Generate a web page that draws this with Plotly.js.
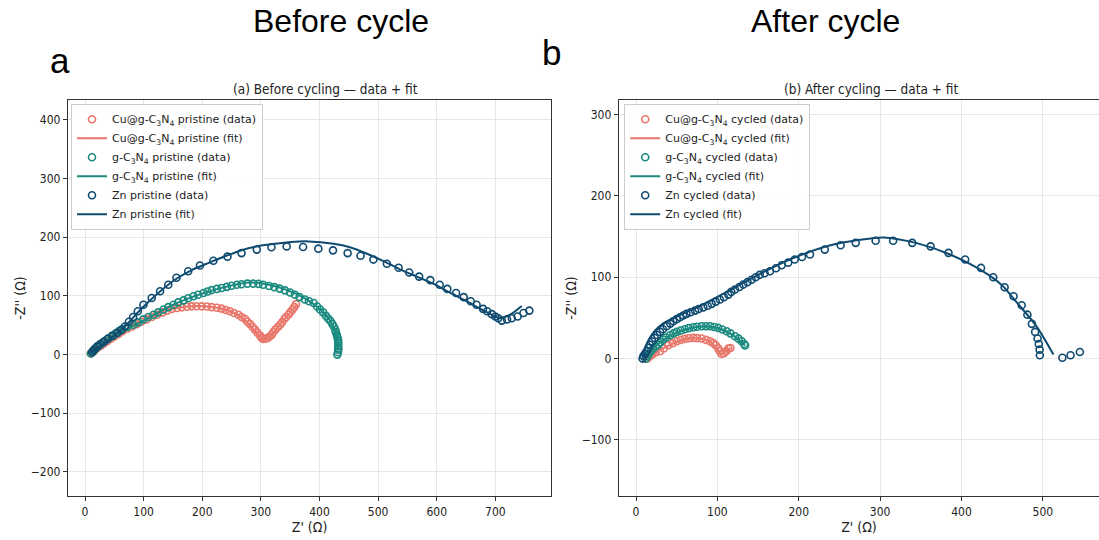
<!DOCTYPE html>
<html>
<head>
<meta charset="utf-8">
<script src="https://cdn.plot.ly/plotly-3.0.1.min.js"></script>
<style>html,body{margin:0;padding:0;background:#fff;} #chart{width:1099px;height:540px;}</style>
</head>
<body>
<div id="chart"></div>
<script>
// ---------- (a) Before cycling ----------
const cuPristineX = [10,12,15,18,22,27,32,38,44,50,57,64,72,80,88,96,105,114,123,132,140,148,157,165,174,182,190,199,208,216,225,233,240,247,254,261.6,267,273,277,281.6,286,290,294,298.6,301,304,308,311.7,315,318.5,321,324.7,329,332.8,336,340,343,347,350,353.8,357,360];
const cuPristineY = [2,4,6,9,12,15,19,23,27,31,35,40,44,48,52,56,60,64,68,72,75,78,79.5,80.6,81.5,82.3,82.5,82.3,82,81,80,78.4,76,73.8,71,68,64,60.6,56,52,47,42.6,37.5,32.4,29,26.6,27,28.4,31,34,38,42.6,47,51,55,60.6,64,68,72,76.7,81,86];
const cuPristineFitX = [10,40,80,120,150,190,230,260,280,295,303,315,330,345,362];
const cuPristineFitY = [2,25,48,67,78,83,79,68,52,35,27,30,48,66,86];

const gcnPristineX = [10,13,16,20,25,30,35,40,46,52,58,63,72,82.5,91,99.5,108,117,125,134,142,151,159,168,176,185,193,202,209,216,225,233,242,250,259,267,277,287,296,304,314,323,332,341,350,358,366,375,382,390,396,401,406,411,415,419,422,425,427,428,429.5,430.5,431.5,432,432,432,432,432,431.5,430.5];
const gcnPristineY = [2,5,8,12,16,20,24,28,32,36,40,43,47,51,55,60,64,68,72,77,81,85,89,92.5,96,99.4,102,105,107.5,110,112,113.5,115.5,117.5,119,120,121,121,120.5,119,117,115,112.5,109.5,106,102,98,94,91,88,82,77,72,66,61,57,52,47,42,38,34,30,26,22.7,19,15,11,8.5,4,0];
const gcnPristineFitX = [10,30,60,100,150,200,250,280,310,345,375,400,418,427,431,432];
const gcnPristineFitY = [2,18,38,58,85,104,118,123,120,110,96,78,58,40,20,8];

const znPristineX = [12,14,17,21,26,32,39,47,55,62,68,75,82,90,99.6,113.8,128,142,156,176,196,219,243,267,293,318,344,372,398,423,448,470,492,515,535,553,570,589,605,618,633,646,658,668,679,686,694,700,705,711,720,728,738,748,758];
const znPristineY = [4,7,10,14,18,22,27,32,37,42,48,56,64,74,85,96.5,108,119,131,142,152,160,167,173,179,183,184.5,183.5,180.6,177.7,173,168.6,162,155,148,140,133,127,119,112,105,98,91,85,78,74,69,65,62,58,60,62,65,71,75];
const znPristineFitX = [10,25,40,55,68,82,97,125,154,182,210,240,267,296,324,352,381,424,452,481,510,538,566,594,622,651,680,708,725,745];
const znPristineFitY = [4,14,25,37,48,63,79,105,128,144,156,168,178,185,189,192,193,189,183,172,159,145,133,121,106,91,75,62,68,83];

// ---------- (b) After cycling ----------
const cuCycledX = [14,17,20,24,29.5,34,39.7,45,50,55,60,65,70.4,75,80.7,86,91,95,98,101,103,105,108,111,113.4,116];
const cuCycledY = [0,3,5,7.5,9,12.5,16.4,19,21.3,23,24.2,25,25.4,25.2,24.6,23,21.3,19,16.4,12.5,9,6,6.5,9,12.3,13];
const cuCycledFitX = [14,25,40,60,75,90,100,104,110,116];
const cuCycledFitY = [0,8,16,24,25,21.5,12,5,9,13];

const gcnCycledX = [12,14,16,18,21,24,27.4,30,33.5,37,41.8,46,50,55,60,65,70.4,75,80.7,86,91,96,101,106,111.4,116,121.6,126,129.8,133,134];
const gcnCycledY = [0,3,6,9,12,15,17,20,23.4,26,28.7,31,32.8,34.5,36,37.5,38.5,39.2,39.7,39.8,39.7,38.8,37.7,35.8,33.6,31,27.4,24.5,21.3,18,16];
const gcnCycledFitX = [12,20,35,55,80,100,120,134];
const gcnCycledFitY = [0,11,24,34,39.5,37.5,28,16];

const znCycledX = [8,9,11,13,15,17,20,23,26,29.5,33,37.7,42,45.8,50,54,58,62,67,72.5,77,82.7,88,93,98,103,108,113.4,117,121.6,127,131.8,137,142,147,152,158,164.6,172,179,187,195,204,213.8,232,251.5,270,294.5,316,339.5,362,384,404.5,424,439,453,464,474,481,486.5,490.5,493.5,495,496,496.3,524,534,545.5];
const znCycledY = [0,3,6,9,13,17,21,25.4,29,32.8,36,39.7,43,45.9,48.5,50.8,53,55,57,59,61,63,65,67.3,70,72.6,75.5,78.7,82,85,88,91,94,97,100,103,105,107.4,111,114.8,118,121.8,125,128,134,139.4,142.3,145,145,142.3,138,130,121.8,111.5,100,87.7,76.6,65.6,54,42.7,32.8,24.6,18,11,4,1,4,8];
const znCycledFitX = [8,11,16,23,33,50,75,115,156,197,238,275,304,345,386,427,450,468,492,513];
const znCycledFitY = [0,12,24,34,43,52,63,84,106,125,139,146,149,142,128,107,90,69,40,5];

const xTicksA = [0,100,200,300,400,500,600,700];
const yTicksA = [-200,-100,0,100,200,300,400];
const xTicksB = [0,100,200,300,400,500];
const yTicksB = [-100,0,100,200,300];

const cSalmon = '#E8766A';
const cTeal = '#1A8A7F';
const cNavy = '#0F4A70';

function dataTrace(x, y, color, name, xa, ya, lg) {
  return {x: x, y: y, type: 'scatter', mode: 'markers', name: name,
    marker: {symbol: 'circle-open', size: 7, color: color, line: {width: 1.6, color: color}},
    xaxis: xa, yaxis: ya, legend: lg, hoverinfo: 'skip'};
}
function fitTrace(x, y, color, name, xa, ya, lg) {
  return {x: x, y: y, type: 'scatter', mode: 'lines', name: name,
    line: {color: color, width: 2, shape: 'spline', smoothing: 0.8},
    xaxis: xa, yaxis: ya, legend: lg, hoverinfo: 'skip'};
}
const CN = 'C<sub>3</sub>N<sub>4</sub>';
const traces = [
  dataTrace(cuPristineX, cuPristineY, cSalmon, 'Cu@g-' + CN + ' pristine (data)', 'x', 'y', 'legend'),
  fitTrace(cuPristineFitX, cuPristineFitY, cSalmon, 'Cu@g-' + CN + ' pristine (fit)', 'x', 'y', 'legend'),
  dataTrace(gcnPristineX, gcnPristineY, cTeal, 'g-' + CN + ' pristine (data)', 'x', 'y', 'legend'),
  fitTrace(gcnPristineFitX, gcnPristineFitY, cTeal, 'g-' + CN + ' pristine (fit)', 'x', 'y', 'legend'),
  dataTrace(znPristineX, znPristineY, cNavy, 'Zn pristine (data)', 'x', 'y', 'legend'),
  fitTrace(znPristineFitX, znPristineFitY, cNavy, 'Zn pristine (fit)', 'x', 'y', 'legend'),
  dataTrace(cuCycledX, cuCycledY, cSalmon, 'Cu@g-' + CN + ' cycled (data)', 'x2', 'y2', 'legend2'),
  fitTrace(cuCycledFitX, cuCycledFitY, cSalmon, 'Cu@g-' + CN + ' cycled (fit)', 'x2', 'y2', 'legend2'),
  dataTrace(gcnCycledX, gcnCycledY, cTeal, 'g-' + CN + ' cycled (data)', 'x2', 'y2', 'legend2'),
  fitTrace(gcnCycledFitX, gcnCycledFitY, cTeal, 'g-' + CN + ' cycled (fit)', 'x2', 'y2', 'legend2'),
  dataTrace(znCycledX, znCycledY, cNavy, 'Zn cycled (data)', 'x2', 'y2', 'legend2'),
  fitTrace(znCycledFitX, znCycledFitY, cNavy, 'Zn cycled (fit)', 'x2', 'y2', 'legend2')
];

const FONT = 'DejaVu Sans Condensed, DejaVu Sans, sans-serif';
function axisBase(extra) {
  return Object.assign({
    showline: true, linecolor: '#333', linewidth: 1.2,
    ticks: 'outside', ticklen: 4, tickcolor: '#333', tickwidth: 1,
    showgrid: true, gridcolor: '#e6e6e6', gridwidth: 1, zeroline: false,
    tickfont: {family: FONT, size: 12, color: '#222'},
    tickmode: 'array'
  }, extra);
}
const legendBase = {
  bgcolor: 'rgba(255,255,255,0.9)', bordercolor: '#cccccc', borderwidth: 1,
  font: {family: 'DejaVu Sans, sans-serif', size: 11, color: '#222'},
  xanchor: 'left', yanchor: 'top', tracegroupgap: 0, itemwidth: 30
};

const layout = {
  width: 1099, height: 540,
  margin: {l: 0, r: 0, t: 0, b: 0},
  paper_bgcolor: '#fff', plot_bgcolor: '#fff',
  showlegend: true,
  xaxis: axisBase({domain: [0.0619, 0.5014], range: [-29, 795], tickvals: xTicksA, mirror: true, anchor: 'y',
    title: {text: "Z' (Ω)", font: {family: FONT, size: 14, color: '#222'}, standoff: 4}}),
  yaxis: axisBase({domain: [0.0815, 0.8148], range: [-241, 434], tickvals: yTicksA, mirror: true, anchor: 'x',
    title: {text: "-Z'' (Ω)", font: {family: FONT, size: 14, color: '#222'}, standoff: 1}}),
  xaxis2: axisBase({domain: [0.5632, 1.0], range: [-21, 569], tickvals: xTicksB, mirror: true, anchor: 'y2',
    title: {text: "Z' (Ω)", font: {family: FONT, size: 14, color: '#222'}, standoff: 4}}),
  yaxis2: axisBase({domain: [0.0815, 0.8148], range: [-169, 318], tickvals: yTicksB, mirror: false, anchor: 'x2',
    title: {text: "-Z'' (Ω)", font: {family: FONT, size: 14, color: '#222'}, standoff: 1}}),
  legend: Object.assign({x: 0.0646, y: 0.808}, legendBase),
  legend2: Object.assign({x: 0.568, y: 0.808}, legendBase),
  annotations: [
    {text: 'Before cycle', xref: 'paper', yref: 'paper', x: 341/1099, y: 1 - 21/540, xanchor: 'center', yanchor: 'middle', showarrow: false,
      font: {family: 'Liberation Sans, Arial, sans-serif', size: 32, color: '#000'}},
    {text: 'After cycle', xref: 'paper', yref: 'paper', x: 825/1099, y: 1 - 21/540, xanchor: 'center', yanchor: 'middle', showarrow: false,
      font: {family: 'Liberation Sans, Arial, sans-serif', size: 32, color: '#000'}},
    {text: 'a', xref: 'paper', yref: 'paper', x: 60/1099, y: 1 - 60/540, xanchor: 'center', yanchor: 'middle', showarrow: false,
      font: {family: 'Liberation Sans, Arial, sans-serif', size: 35, color: '#000'}},
    {text: 'b', xref: 'paper', yref: 'paper', x: 551/1099, y: 1 - 53/540, xanchor: 'center', yanchor: 'middle', showarrow: false,
      font: {family: 'Liberation Sans, Arial, sans-serif', size: 35, color: '#000'}},
    {text: '(a) Before cycling — data + fit', xref: 'paper', yref: 'paper', x: 325/1099, y: 1 - 89/540, xanchor: 'center', yanchor: 'middle', showarrow: false,
      font: {family: FONT, size: 13.5, color: '#222'}},
    {text: '(b) After cycling — data + fit', xref: 'paper', yref: 'paper', x: 871/1099, y: 1 - 89/540, xanchor: 'center', yanchor: 'middle', showarrow: false,
      font: {family: FONT, size: 13.5, color: '#222'}}
  ]
};

Plotly.newPlot('chart', traces, layout, {staticPlot: true, displayModeBar: false});
</script>
</body>
</html>
